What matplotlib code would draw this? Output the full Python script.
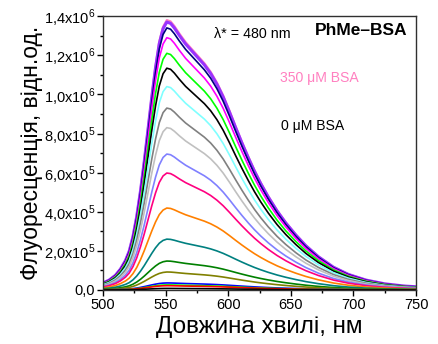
import numpy as np
import matplotlib
matplotlib.use("Agg")
import matplotlib.pyplot as plt
from matplotlib.ticker import MultipleLocator, FixedLocator, FixedFormatter

plt.rcParams['font.family'] = ['Liberation Sans', 'DejaVu Sans']
plt.rcParams['mathtext.fontset'] = 'custom'
plt.rcParams['mathtext.rm'] = 'Liberation Sans'

# wavelength grid and normalised emission profile
wavelength = [500, 505, 510, 514, 518, 521, 524, 527, 530, 533, 536, 539, 542,
              545, 548, 551, 554, 557, 561, 566, 571, 576, 581, 586, 591, 596,
              601, 606, 611, 616, 621, 626, 632, 639, 646, 654, 662, 672, 684,
              696, 710, 725, 740, 750]
profile = [0.026, 0.037, 0.055, 0.078, 0.110, 0.145, 0.200, 0.275, 0.370, 0.480,
           0.600, 0.720, 0.830, 0.920, 0.975, 1.000, 0.995, 0.978, 0.950, 0.918,
           0.892, 0.866, 0.840, 0.808, 0.768, 0.720, 0.664, 0.605, 0.548, 0.494,
           0.443, 0.397, 0.347, 0.295, 0.250, 0.205, 0.165, 0.124, 0.085,
           0.058, 0.037, 0.023, 0.015, 0.012]

# peak intensity of each spectrum (0 -> 350 uM BSA) and its colour
peaks = [0.008e6, 0.022e6, 0.026e6, 0.036e6, 0.092e6, 0.148e6, 0.260e6, 0.419e6,
         0.598e6, 0.695e6, 0.830e6, 0.930e6, 1.040e6, 1.134e6, 1.210e6, 1.290e6,
         1.340e6, 1.370e6, 1.380e6]
colors = ['#000000', '#FF0000', '#00FF00', '#0000FF', '#808000', '#008000',
          '#008080', '#FF8000', '#FF0080', '#8080FF', '#C0C0C0', '#808080',
          '#80FFFF', '#000000', '#00FF00', '#FF00FF', '#000080', '#9933FF',
          '#FF80C0']
widths = [1.2] * 17 + [2.2, 1.6]

y_ticks = [0, 2e5, 4e5, 6e5, 8e5, 10e5, 12e5, 14e5]
y_labels = ['0,0', r'2,0x10$^5$', r'4,0x10$^5$', r'6,0x10$^5$', r'8,0x10$^5$',
            r'1,0x10$^6$', r'1,2x10$^6$', r'1,4x10$^6$']

fig = plt.figure(figsize=(4.38, 3.44), dpi=100)
ax = fig.add_axes([0.235, 0.157, 0.715, 0.796])

wl = np.array(wavelength)
pr = np.array(profile)
# top spectrum drawn first, so the lower ones sit over its wide line
for i in range(len(peaks) - 1, -1, -1):
    ax.plot(wl, pr * peaks[i], color=colors[i], lw=widths[i],
            solid_joinstyle='round')

ax.set_xlim(500, 750)
ax.set_ylim(0, 1.4e6)
ax.xaxis.set_major_locator(MultipleLocator(50))
ax.xaxis.set_minor_locator(MultipleLocator(25))
ax.yaxis.set_major_locator(FixedLocator(y_ticks))
ax.yaxis.set_major_formatter(FixedFormatter(y_labels))
ax.yaxis.set_minor_locator(MultipleLocator(1e5))
ax.tick_params(which='both', direction='out', top=False, right=False, labelsize=10.5)
ax.tick_params(which='major', length=4, width=1, pad=1.5)
ax.tick_params(which='minor', length=2.5, width=1)
for s in ax.spines.values():
    s.set_linewidth(1)
    s.set_color('#303030')

ax.set_xlabel('Довжина хвилі, нм', fontsize=17.5, labelpad=3)
ax.set_ylabel('Флуоресценція, відн.од.', fontsize=16.5, labelpad=1)

ax.text(589, 1.31e6, 'λ* = 480 nm', fontsize=10.3, va='center')
ax.text(669, 1.325e6, 'PhMe–BSA', fontsize=12.5, fontweight='bold', va='center')
ax.text(641, 1.083e6, '350 μM BSA', fontsize=10.1, color='#FF80C0', va='center')
ax.text(642, 0.838e6, '0 μM BSA', fontsize=10.1, color='black', va='center')

fig.savefig('out.png', dpi=100)
